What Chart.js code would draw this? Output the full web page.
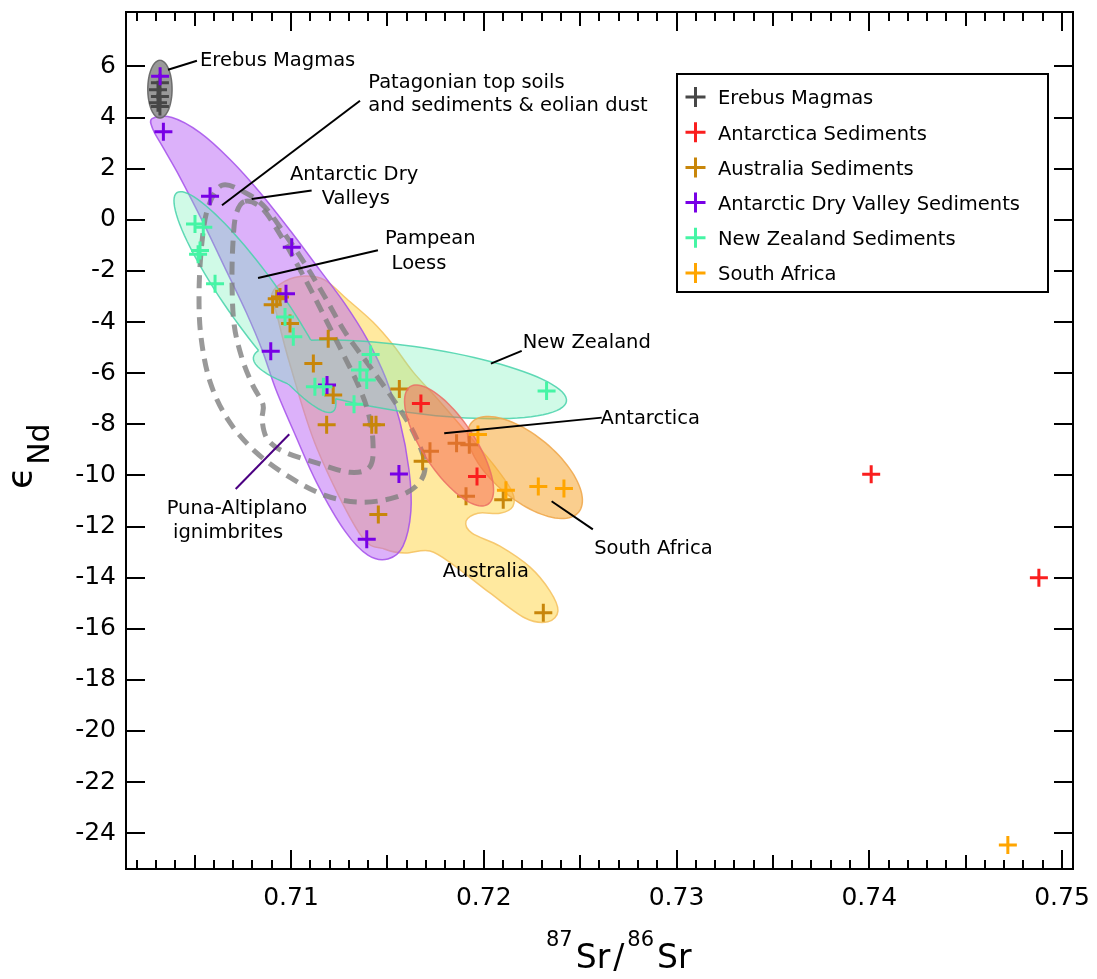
<!DOCTYPE html>
<html>
<head>
<meta charset="utf-8">
<script src="https://cdn.jsdelivr.net/npm/chart.js@4.4.0/dist/chart.umd.min.js"></script>
<style>
  html, body { margin: 0; padding: 0; background: #fff; }
</style>
</head>
<body>
<canvas id="chart-1" width="1097" height="979"></canvas>
<script>
// axis ticks
const xTickValues = [0.71, 0.72, 0.73, 0.74, 0.75]
const yTickValues = [-24, -22, -20, -18, -16, -14, -12, -10, -8, -6, -4, -2, 0, 2, 4, 6]

// 87Sr/86Sr and eNd per sample group
const erebusSr = [0.7032, 0.7031, 0.7032, 0.7031, 0.7032]
const erebusNd = [5.36, 5.09, 4.82, 4.58, 4.43]

const antarcticaSr = [0.71674, 0.71965, 0.7401, 0.7488]
const antarcticaNd = [-7.19, -10.04, -9.96, -14.0]

const australiaSr = [0.70905, 0.70926, 0.70943, 0.70995, 0.71193, 0.71116, 0.71219, 0.71562, 0.71185, 0.71419,
  0.71441, 0.71683, 0.71453, 0.72101, 0.72309, 0.71721, 0.71859, 0.71925, 0.71908]
const australiaNd = [-3.32, -3.09, -3.02, -4.06, -4.65, -5.62, -6.85, -6.62, -8.02, -8.02,
  -8.02, -9.45, -11.53, -10.95, -15.37, -9.06, -8.74, -8.80, -10.82]

const dryValleySr = [0.70321, 0.70338, 0.7058, 0.71004, 0.70974, 0.70895, 0.71187, 0.7156, 0.71393]
const dryValleyNd = [5.62, 3.44, 0.92, -1.07, -2.89, -5.14, -6.46, -9.95, -12.5]

const newZealandSr = [0.70502, 0.70545, 0.70528, 0.70518, 0.70606, 0.70969, 0.71012, 0.71413, 0.71358, 0.71393,
  0.71124, 0.71168, 0.71327, 0.72326]
const newZealandNd = [-0.16, -0.29, -1.20, -1.35, -2.50, -3.80, -4.58, -5.27, -5.88, -6.27,
  -6.53, -6.53, -7.22, -6.70]

const southAfricaSr = [0.7197, 0.72115, 0.72283, 0.72416, 0.74719]
const southAfricaNd = [-8.40, -10.58, -10.43, -10.51, -24.46]

// fields: ellipses given by centre, end of the long axis and end of the short axis (data units)
const erebusField = [{ center: [0.7032, 5.11], major: [0.7032, 6.24], minor: [0.70383, 5.11] }]
const newZealandField = [
  { center: [0.70813, -3.22], major: [0.71218, -7.50], minor: [0.70925, -2.62] },
  { center: [0.71617, -6.24], major: [0.72429, -7.10], minor: [0.71641, -4.96] }
]
const antarcticaField = [{ center: [0.7182, -8.83], major: [0.72022, -11.13], minor: [0.71932, -8.27] }]
const southAfricaField = [{ center: [0.72214, -9.69], major: [0.72492, -11.44], minor: [0.72321, -8.73] }]

// Dry Valley field outline
const dryValleyOutline = [
  [0.70279, 3.96], [0.70383, 4.00], [0.70528, 3.41], [0.70684, 2.36], [0.70839, 1.07], [0.70995, -0.41],
  [0.71150, -1.97], [0.71280, -3.29], [0.71394, -4.66], [0.71493, -6.22], [0.71565, -7.89], [0.71612, -9.77],
  [0.71622, -11.40], [0.71581, -12.77], [0.71503, -13.27], [0.71399, -13.12], [0.71280, -12.18], [0.71135, -10.31],
  [0.71021, -8.40], [0.70922, -6.65], [0.70850, -5.09], [0.70767, -3.61], [0.70668, -2.05], [0.70549, -0.18],
  [0.70424, 1.66], [0.70336, 2.83], [0.70284, 3.53]
]

// Australia field outline
const australiaOutline = [
  [0.70901, -2.90], [0.70969, -2.40], [0.71073, -2.20], [0.71176, -2.36], [0.71290, -3.10], [0.71425, -4.00],
  [0.71529, -4.89], [0.71633, -5.95], [0.71773, -7.12], [0.71928, -8.48], [0.72058, -9.65], [0.72146, -10.62],
  [0.72151, -11.21], [0.72084, -11.48], [0.71970, -11.48], [0.71908, -11.79], [0.71939, -12.26], [0.72084, -12.77],
  [0.72240, -13.59], [0.72343, -14.52], [0.72385, -15.30], [0.72333, -15.73], [0.72214, -15.58], [0.72032, -14.60],
  [0.71851, -13.55], [0.71721, -12.96], [0.71591, -13.04], [0.71488, -12.89], [0.71358, -12.30], [0.71135, -8.95],
  [0.70995, -5.67], [0.70927, -3.72]
]

// South American source fields (dashed)
const outerLoop = [
  [0.70642, 1.35], [0.70761, 1.07], [0.70865, 0.49], [0.70969, -0.57], [0.71073, -1.73], [0.71176, -3.02],
  [0.71280, -4.39], [0.71410, -5.75], [0.71539, -7.12], [0.71633, -8.28], [0.71695, -9.53], [0.71659, -10.35],
  [0.71539, -10.86], [0.71358, -11.05], [0.71176, -10.78], [0.70995, -10.08], [0.70813, -9.06], [0.70673, -7.82],
  [0.70580, -6.34], [0.70533, -4.58], [0.70523, -2.83], [0.70538, -0.88], [0.70570, 0.49]
]
const innerLoop = [
  [0.70761, 0.72], [0.70850, 0.45], [0.70943, -0.57], [0.71031, -1.73], [0.71114, -2.90], [0.71192, -4.07],
  [0.71270, -5.24], [0.71348, -6.45], [0.71399, -7.50], [0.71425, -8.67], [0.71410, -9.65], [0.71306, -9.88],
  [0.71124, -9.49], [0.70959, -9.06], [0.70876, -8.56], [0.70850, -7.82], [0.70855, -7.23], [0.70800, -6.45],
  [0.70745, -5.40], [0.70705, -4.10], [0.70694, -2.44], [0.70699, -0.88], [0.70715, 0.21]
]

// annotation text (left end of baseline) and leader lines
const notes = [
  { text: 'Erebus Magmas', at: [0.70528, 6.02] },
  { text: 'Patagonian top soils', at: [0.71401, 5.17] },
  { text: 'and sediments & eolian dust', at: [0.71401, 4.27] },
  { text: 'Antarctic Dry', at: [0.70995, 1.54] },
  { text: 'Valleys', at: [0.71159, 0.60] },
  { text: 'Pampean', at: [0.71488, -0.94] },
  { text: 'Loess', at: [0.71522, -1.93] },
  { text: 'New Zealand', at: [0.72202, -5.01] },
  { text: 'Antarctica', at: [0.72606, -7.97] },
  { text: 'South Africa', at: [0.72573, -13.08] },
  { text: 'Australia', at: [0.71787, -13.98] },
  { text: 'Puna-Altiplano', at: [0.70355, -11.52] },
  { text: 'ignimbrites', at: [0.70388, -12.46] }
]
const leaders = [
  { from: [0.70362, 5.87], to: [0.70512, 6.22], color: '#000' },
  { from: [0.71358, 4.66], to: [0.70642, 0.57], color: '#000' },
  { from: [0.71107, 1.15], to: [0.70796, 0.81], color: '#000' },
  { from: [0.71451, -1.19], to: [0.70829, -2.28], color: '#000' },
  { from: [0.72197, -5.13], to: [0.72037, -5.63], color: '#000' },
  { from: [0.72612, -7.74], to: [0.71795, -8.35], color: '#000' },
  { from: [0.72566, -12.11], to: [0.72352, -11.01], color: '#000' },
  { from: [0.70713, -10.53], to: [0.70991, -8.39], color: '#4b0082' }
]

const FONT = '"DejaVu Sans", sans-serif'

const toPx = (chart, p) => [chart.scales.x.getPixelForValue(p[0]), chart.scales.y.getPixelForValue(p[1])]

function ellipsePath(ctx, chart, e) {
  const c = toPx(chart, e.center), m = toPx(chart, e.major), n = toPx(chart, e.minor)
  const ax = m[0] - c[0], ay = m[1] - c[1]
  let bx = n[0] - c[0], by = n[1] - c[1]
  if (ax * by - ay * bx < 0) { bx = -bx; by = -by }
  ctx.moveTo(c[0] + ax, c[1] + ay)
  for (let i = 1; i <= 96; i++) {
    const t = i / 96 * Math.PI * 2
    ctx.lineTo(c[0] + Math.cos(t) * ax + Math.sin(t) * bx, c[1] + Math.cos(t) * ay + Math.sin(t) * by)
  }
  ctx.closePath()
}

function smoothPath(ctx, pts) {
  const n = pts.length
  ctx.moveTo(pts[0][0], pts[0][1])
  for (let i = 0; i < n; i++) {
    const p0 = pts[(i - 1 + n) % n], p1 = pts[i], p2 = pts[(i + 1) % n], p3 = pts[(i + 2) % n]
    ctx.bezierCurveTo(
      p1[0] + (p2[0] - p0[0]) / 6, p1[1] + (p2[1] - p0[1]) / 6,
      p2[0] - (p3[0] - p1[0]) / 6, p2[1] - (p3[1] - p1[1]) / 6,
      p2[0], p2[1])
  }
  ctx.closePath()
}

// fill the union of the ellipses, outline only its outer edge
function drawField(chart, shapes, fill, edge) {
  const ctx = chart.ctx
  ctx.save()
  ctx.beginPath()
  shapes.forEach(s => ellipsePath(ctx, chart, s))
  ctx.fillStyle = fill
  ctx.fill('nonzero')
  ctx.strokeStyle = edge
  ctx.lineWidth = 1.5
  shapes.forEach((s, i) => {
    ctx.save()
    shapes.forEach((o, j) => {
      if (i === j) return
      ctx.beginPath()
      ctx.rect(0, 0, chart.width, chart.height)
      ellipsePath(ctx, chart, o)
      ctx.clip('evenodd')
    })
    ctx.beginPath()
    ellipsePath(ctx, chart, s)
    ctx.stroke()
    ctx.restore()
  })
  ctx.restore()
}

function drawBlob(chart, outline, fill, edge) {
  const ctx = chart.ctx
  ctx.save()
  ctx.beginPath()
  smoothPath(ctx, outline.map(p => toPx(chart, p)))
  ctx.fillStyle = fill
  ctx.fill()
  ctx.strokeStyle = edge
  ctx.lineWidth = 1.5
  ctx.stroke()
  ctx.restore()
}

const fieldsPlugin = {
  id: 'fields',
  beforeDatasetsDraw(chart) {
    const ctx = chart.ctx
    drawBlob(chart, australiaOutline, 'rgba(255,212,70,0.52)', 'rgba(245,195,100,0.9)')
    drawBlob(chart, dryValleyOutline, 'rgba(185,100,245,0.5)', 'rgba(165,80,235,0.85)')
    drawField(chart, newZealandField, 'rgba(110,240,180,0.32)', 'rgba(70,210,170,0.85)')
    drawField(chart, southAfricaField, 'rgba(245,165,50,0.55)', 'rgba(240,170,80,0.9)')
    drawField(chart, erebusField, 'rgba(135,135,135,0.85)', 'rgba(100,100,100,0.9)')

    ctx.save()
    ctx.setLineDash([13, 8])
    ctx.lineWidth = 5
    ctx.strokeStyle = 'rgba(128,128,128,0.8)'
    ;[outerLoop, innerLoop].forEach(loop => {
      ctx.beginPath()
      smoothPath(ctx, loop.map(p => toPx(chart, p)))
      ctx.stroke()
    })
    ctx.restore()
  },
  afterDatasetDraw(chart, args) {
    if (chart.data.datasets[args.index].label !== 'Australia Sediments') return
    drawField(chart, antarcticaField, 'rgba(245,95,75,0.5)', 'rgba(235,110,100,0.85)')
  },
  afterDraw(chart) {
    const ctx = chart.ctx
    const a = chart.chartArea
    const xs = chart.scales.x, ys = chart.scales.y

    // frame and tick marks on all four sides
    ctx.save()
    ctx.strokeStyle = '#000'
    ctx.lineWidth = 2
    ctx.strokeRect(a.left, a.top, a.width, a.height)
    ctx.beginPath()
    for (let k = Math.ceil(xs.min * 1000); k <= Math.floor(xs.max * 1000); k++) {
      const x = Math.round(xs.getPixelForValue(k / 1000))
      const len = k % 10 === 0 ? 19 : (k % 5 === 0 ? 14 : 9)
      ctx.moveTo(x, a.bottom); ctx.lineTo(x, a.bottom - len)
      ctx.moveTo(x, a.top); ctx.lineTo(x, a.top + len)
    }
    yTickValues.forEach(v => {
      const y = Math.round(ys.getPixelForValue(v))
      ctx.moveTo(a.left, y); ctx.lineTo(a.left + 19, y)
      ctx.moveTo(a.right, y); ctx.lineTo(a.right - 19, y)
    })
    ctx.stroke()
    ctx.restore()

    // leader lines and labels
    ctx.save()
    leaders.forEach(l => {
      const p = toPx(chart, l.from), q = toPx(chart, l.to)
      ctx.beginPath()
      ctx.moveTo(p[0], p[1]); ctx.lineTo(q[0], q[1])
      ctx.strokeStyle = l.color
      ctx.lineWidth = 2
      ctx.stroke()
    })
    ctx.fillStyle = '#000'
    ctx.font = '19.5px ' + FONT
    ctx.textBaseline = 'alphabetic'
    notes.forEach(n => {
      const p = toPx(chart, n.at)
      ctx.fillText(n.text, p[0], p[1])
    })
    ctx.restore()

    // legend
    ctx.save()
    ctx.lineWidth = 2
    ctx.strokeStyle = '#000'
    ctx.fillStyle = '#fff'
    ctx.fillRect(677, 74, 371, 218)
    ctx.strokeRect(677, 74, 371, 218)
    ctx.font = '19.5px ' + FONT
    ctx.textBaseline = 'alphabetic'
    chart.data.datasets.forEach((ds, i) => {
      const cy = 97 + i * 35.2
      ctx.strokeStyle = ds.borderColor
      ctx.lineWidth = 3
      ctx.beginPath()
      ctx.moveTo(685.5, cy); ctx.lineTo(705.5, cy)
      ctx.moveTo(695.5, cy - 10); ctx.lineTo(695.5, cy + 10)
      ctx.stroke()
      ctx.fillStyle = '#000'
      ctx.fillText(ds.label, 718, cy + 7.3)
    })
    ctx.restore()

    // axis titles
    ctx.save()
    ctx.fillStyle = '#000'
    ctx.textBaseline = 'alphabetic'
    let x = 546
    const parts = [['87', 21, 946], ['Sr', 33, 968], ['/', 33, 968], ['86', 21, 946], ['Sr', 33, 968]]
    parts.forEach(([t, size, base]) => {
      ctx.font = size + 'px ' + FONT
      ctx.fillText(t, x, base)
      x += ctx.measureText(t).width + 3
    })
    ctx.translate(32, 489)
    ctx.rotate(-Math.PI / 2)
    ctx.font = '36px ' + FONT
    ctx.fillText('\u03f5', 0, 0)
    const w = ctx.measureText('\u03f5').width
    ctx.font = '30px ' + FONT
    ctx.fillText('Nd', w + 2, 16.5)
    ctx.restore()
  }
}

const cross = (label, xs, ys, color, order) => ({
  label,
  data: xs.map((v, i) => ({ x: v, y: ys[i] })),
  borderColor: color,
  backgroundColor: color,
  pointStyle: 'cross',
  pointRadius: 9,
  pointHoverRadius: 9,
  pointBorderWidth: 3,
  showLine: false,
  order
})

new Chart(document.getElementById('chart-1').getContext('2d'), {
  type: 'scatter',
  data: {
    datasets: [
      cross('Erebus Magmas', erebusSr, erebusNd, '#474747', 5),
      cross('Antarctica Sediments', antarcticaSr, antarcticaNd, '#fa1e1e', 2),
      cross('Australia Sediments', australiaSr, australiaNd, '#c8860a', 6),
      cross('Antarctic Dry Valley Sediments', dryValleySr, dryValleyNd, '#7800e6', 4),
      cross('New Zealand Sediments', newZealandSr, newZealandNd, '#45f5a5', 3),
      cross('South Africa', southAfricaSr, southAfricaNd, '#ffa500', 1)
    ]
  },
  options: {
    responsive: false,
    animation: false,
    devicePixelRatio: 1,
    layout: { padding: { left: 0, right: 24, top: 9, bottom: 0 } },
    plugins: { legend: { display: false }, tooltip: { enabled: false } },
    scales: {
      x: {
        type: 'linear',
        min: 0.70144,
        max: 0.75057,
        grid: { display: false, drawTicks: false },
        border: { display: false },
        afterBuildTicks: s => { s.ticks = xTickValues.map(v => ({ value: v })) },
        afterFit: s => { s.height = 110; s.paddingLeft = 0; s.paddingRight = 0 },
        ticks: {
          color: '#000',
          font: { family: FONT, size: 25 },
          padding: 14,
          maxRotation: 0,
          autoSkip: false,
          callback: v => v.toFixed(2)
        }
      },
      y: {
        type: 'linear',
        min: -25.4,
        max: 8.13,
        grid: { display: false, drawTicks: false },
        border: { display: false },
        afterBuildTicks: s => { s.ticks = yTickValues.map(v => ({ value: v })) },
        afterFit: s => { s.width = 126; s.paddingTop = 0; s.paddingBottom = 0 },
        ticks: {
          color: '#000',
          font: { family: FONT, size: 25 },
          padding: 10,
          autoSkip: false,
          callback: v => String(v)
        }
      }
    }
  },
  plugins: [fieldsPlugin]
})
</script>
</body>
</html>
